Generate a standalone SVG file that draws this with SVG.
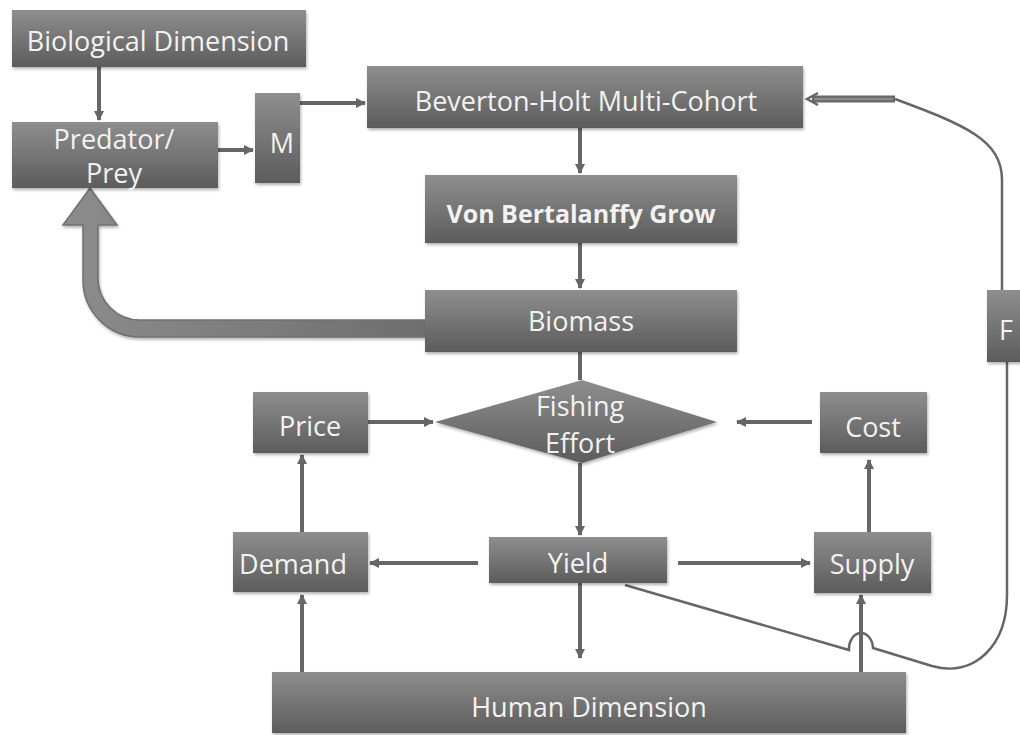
<svg xmlns="http://www.w3.org/2000/svg" width="1020" height="735" viewBox="0 0 1020 735">
<style>
.box{fill:url(#g);filter:url(#sh);}
.t{font-family:"Open Sans","Liberation Sans",sans-serif;font-size:27px;fill:#f2f2f2;text-anchor:middle;}
.b{font-weight:bold;font-size:25px;}
.c{fill:none;stroke:#666;stroke-width:4;}
.thin{fill:none;stroke:#666;stroke-width:2.5;}
</style>
<defs>
<linearGradient id="g" x1="0" y1="0" x2="0" y2="1">
<stop offset="0" stop-color="#8e8e8e"/>
<stop offset="1" stop-color="#5c5c5c"/>
</linearGradient>
<linearGradient id="ga" x1="0" y1="0" x2="1" y2="0">
<stop offset="0" stop-color="#8c8c8c"/>
<stop offset="1" stop-color="#6e6e6e"/>
</linearGradient>
<filter id="sh" x="-10%" y="-10%" width="120%" height="130%">
<feDropShadow dx="1" dy="2" stdDeviation="1.5" flood-color="#000" flood-opacity="0.3"/>
</filter>
<marker id="a" markerUnits="userSpaceOnUse" markerWidth="10" markerHeight="10" refX="9" refY="5" orient="auto">
<path d="M0,0 L10,5 L0,10 z" fill="#666"/>
</marker>
</defs>

<g id="connectors">
<path class="c" d="M99 67 L99 120" marker-end="url(#a)"/>
<path class="c" d="M218 150 L253 150" marker-end="url(#a)"/>
<path class="c" d="M300 103 L365 103" marker-end="url(#a)"/>
<path class="c" d="M580 128 L580 173" marker-end="url(#a)"/>
<path class="c" d="M580 243 L580 288" marker-end="url(#a)"/>
<path class="c" d="M580 352 L580 380"/>
<path class="c" d="M368 422 L433 422" marker-end="url(#a)"/>
<path class="c" d="M812 422 L737 422" marker-end="url(#a)"/>
<path class="c" d="M580 463 L580 535" marker-end="url(#a)"/>
<path class="c" d="M478 563 L370 563" marker-end="url(#a)"/>
<path class="c" d="M678 563 L810 563" marker-end="url(#a)"/>
<path class="c" d="M302 532 L302 455" marker-end="url(#a)"/>
<path class="c" d="M869 532 L869 460" marker-end="url(#a)"/>
<path class="c" d="M580 583 L580 658" marker-end="url(#a)"/>
<path class="c" d="M302 672 L302 595" marker-end="url(#a)"/>
<path class="c" d="M861 672 L861 595" marker-end="url(#a)"/>
<path class="thin" d="M625 585 L849 650 A12 16 0 0 1 873 648 L932 666 C975 678 1007 645 1007 595 L1007 362"/>
<path class="thin" d="M1002 290 L1002 180 C1002 140 965 125 895 99"/>
<path d="M895 99 L812 99" fill="none" stroke="#666" stroke-width="7"/>
<path d="M893 99 L814 99" fill="none" stroke="#8a8a8a" stroke-width="2.5"/>
<path d="M818 93 L807 99 L818 105" fill="none" stroke="#666" stroke-width="2.5"/>
<path id="bigarrow" d="M425 320 L140 320 A42 42 0 0 1 98 278 L98 225 L117 225 L90 188 L63 225 L83 225 L83 278 A57 57 0 0 0 140 337 L425 337 Z" fill="url(#ga)" stroke="#707070" stroke-width="1.5" filter="url(#sh)"/>
</g>

<g id="bio"><rect class="box" x="12" y="10" width="294" height="57"/><text class="t" x="158" y="51">Biological Dimension</text></g>
<g id="predator"><rect class="box" x="12" y="122" width="206" height="66"/><text class="t" x="114" y="149">Predator/</text><text class="t" x="114" y="183">Prey</text></g>
<g id="m"><rect class="box" x="255" y="93" width="45" height="90"/><text class="t" x="282" y="153">M</text></g>
<g id="beverton"><rect class="box" x="367" y="66" width="436" height="62"/><text class="t" x="586" y="111">Beverton-Holt Multi-Cohort</text></g>
<g id="vonb"><rect class="box" x="425" y="175" width="312" height="68"/><text class="t b" x="581" y="223">Von Bertalanffy Grow</text></g>
<g id="biomass"><rect class="box" x="425" y="290" width="312" height="62"/><text class="t" x="581" y="331">Biomass</text></g>
<g id="fishing"><path d="M435 422 L582 380 L717 422 L582 463 Z" fill="url(#g)" filter="url(#sh)"/><text class="t" x="580" y="416">Fishing</text><text class="t" x="580" y="453">Effort</text></g>
<g id="price"><rect class="box" x="253" y="392" width="115" height="61"/><text class="t" x="310" y="436">Price</text></g>
<g id="cost"><rect class="box" x="820" y="392" width="107" height="61"/><text class="t" x="873" y="437">Cost</text></g>
<g id="demand"><rect class="box" x="233" y="532" width="135" height="60"/><text class="t" x="293" y="574">Demand</text></g>
<g id="yield"><rect class="box" x="489" y="537" width="178" height="46"/><text class="t" x="578" y="573">Yield</text></g>
<g id="supply"><rect class="box" x="814" y="532" width="117" height="61"/><text class="t" x="872" y="574">Supply</text></g>
<g id="human"><rect class="box" x="272" y="672" width="634" height="61"/><text class="t" x="589" y="717">Human Dimension</text></g>
<g id="f"><rect class="box" x="987" y="290" width="40" height="72"/><text class="t" x="1006" y="340">F</text></g>
</svg>
